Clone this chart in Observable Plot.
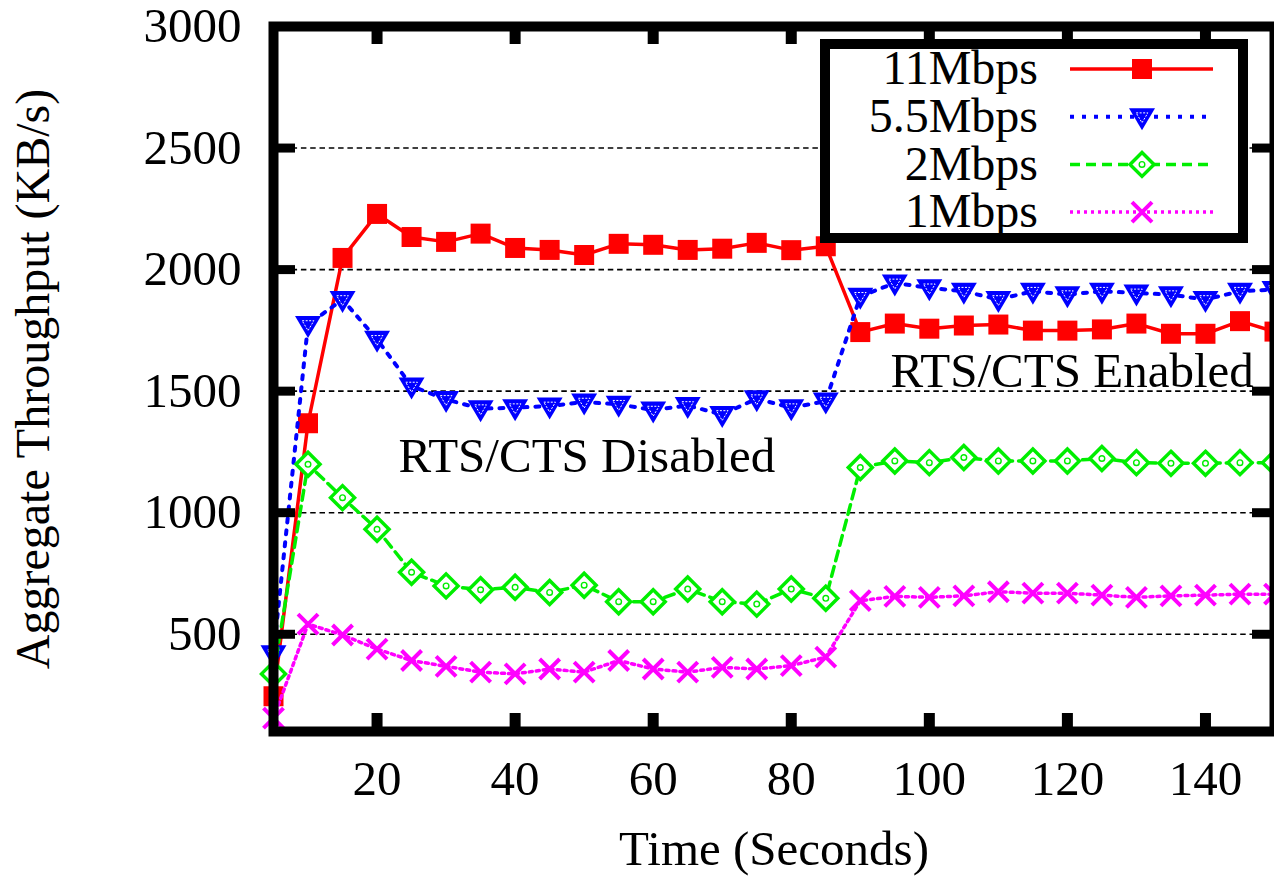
<!DOCTYPE html>
<html>
<head>
<meta charset="utf-8">
<script src="https://cdn.jsdelivr.net/npm/d3@7"></script>
<script src="https://cdn.jsdelivr.net/npm/@observablehq/plot@0.6"></script>
<style>
  html, body { margin: 0; padding: 0; background: white; }
  #chart svg { display: block; }
</style>
</head>
<body>
<div id="chart"></div>
<script>
// ---- data ----
const times = [5,10,15,20,25,30,35,40,45,50,55,60,65,70,75,80,85,90,95,100,105,110,115,120,125,130,135,140,145,150];
const mbps11 = [245,1368,2048,2229,2134,2114,2148,2089,2081,2060,2106,2102,2081,2086,2110,2080,2096,1743,1778,1757,1770,1774,1749,1749,1754,1778,1736,1736,1788,1745];
const mbps55 = [420,1774,1877,1713,1521,1466,1428,1432,1439,1455,1446,1422,1441,1404,1469,1432,1459,1890,1945,1925,1911,1877,1911,1897,1911,1904,1897,1877,1911,1918];
const mbps2 = [337,1199,1062,932,755,699,683,693,672,702,634,634,686,634,624,686,648,1186,1213,1206,1227,1213,1213,1213,1223,1206,1203,1203,1206,1206];
const mbps1 = [155,542,497,439,392,368,344,337,357,344,392,357,344,364,357,371,406,638,656,652,658,675,669,669,661,652,658,661,665,665];
const seriesNames = ["11Mbps", "5.5Mbps", "2Mbps", "1Mbps"];
const xTicks = [20,40,60,80,100,120,140];
const yTicks = [500,1000,1500,2000,2500,3000];
const gridValues = [500,1000,1500,2000,2500];
const annotations = [
  {label: "RTS/CTS Disabled", x: 23.1, y: 1230, anchor: "start"},
  {label: "RTS/CTS Enabled", x: 147.0, y: 1580, anchor: "end"}
];

// ---- symbols ----
const R = (size) => Math.sqrt(size / Math.PI);
const symSquare = {draw(c, s) { const r = R(s); c.rect(-r, -r, 2 * r, 2 * r); }};
const symTriDown = {draw(c, s) { const r = R(s); c.moveTo(-1.3 * r, -0.85 * r); c.lineTo(1.3 * r, -0.85 * r); c.lineTo(0, 1.35 * r); c.closePath(); }};
const symDiamond = {draw(c, s) { const r = R(s); c.moveTo(0, -1.2 * r); c.lineTo(1.2 * r, 0); c.lineTo(0, 1.2 * r); c.lineTo(-1.2 * r, 0); c.closePath(); }};
const symTimes = {draw(c, s) { const r = R(s); c.moveTo(-r, -r); c.lineTo(r, r); c.moveTo(r, -r); c.lineTo(-r, r); }};

const styles = [
  {values: mbps11, color: "#ff0000", dash: null, width: 3.5, symbol: symSquare, fill: "#ff0000", stroke: "none", sw: 0},
  {values: mbps55, color: "#0000ff", dash: "4,8", width: 4, symbol: symTriDown, fill: "#0000ff", stroke: "none", sw: 0},
  {values: mbps2, color: "#00ee00", dash: "10,6", width: 3.5, symbol: symDiamond, fill: "white", stroke: "#00ee00", sw: 3.5},
  {values: mbps1, color: "#ff00ff", dash: "3,4", width: 3.5, symbol: symTimes, fill: "none", stroke: "#ff00ff", sw: 4}
];

const W = 1274, H = 876;
const mL = 273, mR = 0, mT = 26, mB = 145;
const plotW = W - mL - mR, plotH = H - mT - mB;
const FONT = "Liberation Serif, Times New Roman, serif";

const marks = [];
marks.push(Plot.ruleY(gridValues, {y: d => d, stroke: "black", strokeWidth: 1.6, strokeDasharray: "5.5,3.8"}));
annotations.forEach(a => marks.push(Plot.text([a], {x: "x", y: "y", text: "label", textAnchor: a.anchor, lineAnchor: "middle", fontSize: 49, fill: "black"})));
styles.forEach((st, k) => {
  const rows = times.map((t, i) => ({t, v: st.values[i], name: seriesNames[k]}));
  marks.push(Plot.line(rows, {x: "t", y: "v", stroke: st.color, strokeWidth: st.width, strokeDasharray: st.dash}));
  marks.push(Plot.dot(rows, {x: "t", y: "v", r: 10, symbol: st.symbol, fill: st.fill, stroke: st.stroke, strokeWidth: st.sw}));
  if (k === 1) {
    marks.push(Plot.dot(rows, {x: "t", y: "v", r: 4.5, symbol: symTriDown, fill: "none", stroke: "white", strokeWidth: 1, strokeDasharray: "2,1.5"}));
  }
  if (k === 2) {
    marks.push(Plot.dot(rows, {x: "t", y: "v", r: 2.8, fill: "none", stroke: "#00ee00", strokeWidth: 1.4}));
  }
});
// frame & inward ticks
marks.push(Plot.tickY(gridValues, {y: d => d, insetRight: plotW - 22, stroke: "black", strokeWidth: 9}));
marks.push(Plot.tickY(gridValues, {y: d => d, insetLeft: plotW - 22, stroke: "black", strokeWidth: 9}));
marks.push(Plot.tickX(xTicks, {x: d => d, insetTop: plotH - 18, stroke: "black", strokeWidth: 11}));
marks.push(Plot.tickX(xTicks, {x: d => d, insetBottom: plotH - 18, stroke: "black", strokeWidth: 11}));
marks.push(Plot.frame({stroke: "black", strokeWidth: 10}));
marks.push(Plot.axisX(xTicks, {tickSize: 0, tickPadding: 29, fontSize: 49, label: null, tickFormat: d => String(d)}));
marks.push(Plot.axisY(yTicks, {tickSize: 0, tickPadding: 32, fontSize: 49, label: null, tickFormat: d => String(d)}));
marks.push(Plot.text(["Time (Seconds)"], {frameAnchor: "bottom", dy: 118, textAnchor: "middle", lineAnchor: "middle", fontSize: 49, fill: "black"}));
marks.push(Plot.text(["Aggregate Throughput (KB/s)"], {frameAnchor: "left", dx: -(mL - 33.5), rotate: -90, textAnchor: "middle", lineAnchor: "middle", fontSize: 48, fill: "black"}));

const chart = Plot.plot({
  width: W, height: H,
  marginLeft: mL, marginRight: mR, marginTop: mT, marginBottom: mB,
  style: {fontFamily: FONT, fontSize: "49px", background: "white", color: "black", overflow: "hidden"},
  x: {domain: [5, 150]},
  y: {domain: [100, 3000]},
  marks
});
document.getElementById("chart").appendChild(chart);

// ---- legend (inside plot, top right) ----
const svg = d3.select(chart);
const lg = svg.append("g").attr("font-family", FONT).attr("font-size", 48);
lg.append("rect").attr("x", 825).attr("y", 44).attr("width", 418).attr("height", 194)
  .attr("fill", "white").attr("stroke", "black").attr("stroke-width", 10);
styles.forEach((st, k) => {
  const cy = 69 + k * 47.7;
  lg.append("text").attr("x", 1038).attr("y", cy).attr("dy", "0.32em").attr("text-anchor", "end").attr("fill", "black").text(seriesNames[k]);
  lg.append("line").attr("x1", 1070).attr("x2", 1213).attr("y1", cy).attr("y2", cy)
    .attr("stroke", st.color).attr("stroke-width", st.width).attr("stroke-dasharray", st.dash);
  lg.append("path").attr("transform", `translate(1142,${cy})`)
    .attr("d", d3.symbol(st.symbol, 100 * Math.PI)())
    .attr("fill", st.fill).attr("stroke", st.stroke).attr("stroke-width", st.sw);
  if (k === 1) lg.append("path").attr("transform", `translate(1142,${cy})`).attr("d", d3.symbol(symTriDown, 4.5 * 4.5 * Math.PI)())
    .attr("fill", "none").attr("stroke", "white").attr("stroke-width", 1).attr("stroke-dasharray", "2,1.5");
  if (k === 2) lg.append("circle").attr("cx", 1142).attr("cy", cy).attr("r", 2.8).attr("fill", "none").attr("stroke", st.color).attr("stroke-width", 1.4);
});
</script>
</body>
</html>
